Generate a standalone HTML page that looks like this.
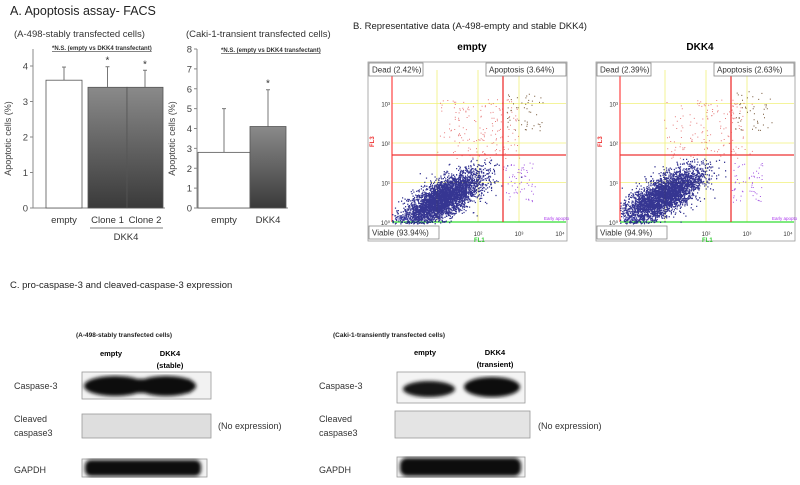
<!DOCTYPE html>
<html><head><meta charset="utf-8"><style>
body{margin:0;background:#fff;}
svg{display:block;font-family:"Liberation Sans",Arial,sans-serif;}
</style></head><body>
<svg id="fig" width="800" height="485" viewBox="0 0 800 485">
<defs>
<linearGradient id="gbar" x1="0" y1="0" x2="0" y2="1"><stop offset="0" stop-color="#8a8a8a"/><stop offset="1" stop-color="#3a3a3a"/></linearGradient>
<filter id="blur1"><feGaussianBlur stdDeviation="1.8"/></filter>
</defs>
<!-- Panel A -->
<text x="10" y="15" font-size="12.5" fill="#222">A. Apoptosis assay- FACS</text>
<text x="14" y="37" font-size="9.5" fill="#333">(A-498-stably transfected cells)</text>
<text x="52" y="50" font-size="6" font-weight="bold" fill="#333" text-decoration="underline">*N.S. (empty vs DKK4 transfectant)</text>
<text x="186" y="37" font-size="9.5" fill="#333">(Caki-1-transient transfected cells)</text>
<text x="221" y="52" font-size="6" font-weight="bold" fill="#333" text-decoration="underline">*N.S. (empty vs DKK4 transfectant)</text>
<g id="chart1"></g>
<g id="chart2"></g>
<line x1="90" y1="228" x2="163" y2="228" stroke="#555" stroke-width="0.8"/>
<text x="126" y="240" font-size="9.5" text-anchor="middle" fill="#333">DKK4</text>

<!-- Panel B -->
<text x="353" y="29" font-size="9.5" fill="#222">B. Representative data (A-498-empty and stable DKK4)</text>
<text x="472" y="50" font-size="10" font-weight="bold" text-anchor="middle">empty</text>
<text x="700" y="50" font-size="10" font-weight="bold" text-anchor="middle">DKK4</text>
<g id="facs1"></g>
<g id="facs2"></g>

<!-- Panel C -->
<text x="10" y="288" font-size="9.5" fill="#222">C. pro-caspase-3 and cleaved-caspase-3 expression</text>
<g>
<text x="76" y="337" font-size="6.5" font-weight="bold" fill="#222">(A-498-stably transfected cells)</text>
<text x="111" y="356" font-size="7.5" font-weight="bold" text-anchor="middle">empty</text>
<text x="170" y="356" font-size="7.5" font-weight="bold" text-anchor="middle">DKK4</text>
<text x="170" y="368" font-size="7.5" font-weight="bold" text-anchor="middle">(stable)</text>
<text x="14" y="389" font-size="9" fill="#333">Caspase-3</text>
<rect x="82" y="372" width="129" height="27" fill="#f2f2f2" stroke="#999" stroke-width="0.8"/>
<g filter="url(#blur1)"><ellipse cx="115" cy="386" rx="31" ry="10" fill="#111"/><ellipse cx="166" cy="386" rx="30" ry="10" fill="#111"/><rect x="92" y="379" width="98" height="14" fill="#111"/></g>
<text x="14" y="422" font-size="9" fill="#333">Cleaved</text>
<text x="14" y="436" font-size="9" fill="#333">caspase3</text>
<rect x="82" y="414" width="129" height="24" fill="#dedede" stroke="#999" stroke-width="0.8"/>
<text x="218" y="429" font-size="9" fill="#333">(No expression)</text>
<text x="14" y="473" font-size="9" fill="#333">GAPDH</text>
<rect x="82" y="459" width="125" height="18" fill="#f2f2f2" stroke="#999" stroke-width="0.8"/>
<g filter="url(#blur1)"><rect x="85" y="460" width="116" height="16" rx="6" fill="#0a0a0a"/></g>
</g>
<g>
<text x="333" y="337" font-size="6.5" font-weight="bold" fill="#222">(Caki-1-transiently transfected cells)</text>
<text x="425" y="355" font-size="7.5" font-weight="bold" text-anchor="middle">empty</text>
<text x="495" y="355" font-size="7.5" font-weight="bold" text-anchor="middle">DKK4</text>
<text x="495" y="367" font-size="7.5" font-weight="bold" text-anchor="middle">(transient)</text>
<text x="319" y="389" font-size="9" fill="#333">Caspase-3</text>
<rect x="397" y="372" width="128" height="31" fill="#f4f4f4" stroke="#999" stroke-width="0.8"/>
<g filter="url(#blur1)"><ellipse cx="429" cy="389" rx="26" ry="8" fill="#151515"/><ellipse cx="492" cy="387" rx="28" ry="10" fill="#0e0e0e"/></g>
<text x="319" y="422" font-size="9" fill="#333">Cleaved</text>
<text x="319" y="436" font-size="9" fill="#333">caspase3</text>
<rect x="395" y="411" width="135" height="27" fill="#e4e4e4" stroke="#999" stroke-width="0.8"/>
<text x="538" y="429" font-size="9" fill="#333">(No expression)</text>
<text x="319" y="473" font-size="9" fill="#333">GAPDH</text>
<rect x="397" y="457" width="128" height="20" fill="#f2f2f2" stroke="#999" stroke-width="0.8"/>
<g filter="url(#blur1)"><rect x="400" y="458" width="121" height="18" rx="7" fill="#0a0a0a"/></g>
</g>
</svg>
<script>
const NS="http://www.w3.org/2000/svg";
const chart1Categories=["empty","Clone 1","Clone 2"];
const chart1Values=[3.6,3.4,3.4];
const chart1Errors=[0.37,0.58,0.48];
const chart1Stars=[false,true,true];
const chart1Ticks=[0,1,2,3,4];
const chart2Categories=["empty","DKK4"];
const chart2Values=[2.8,4.1];
const chart2Errors=[2.2,1.85];
const chart2Stars=[false,true];
const chart2Ticks=[0,1,2,3,4,5,6,7,8];

function mk(parent,tag,attrs,text){const e=document.createElementNS(NS,tag);for(const k in attrs)e.setAttribute(k,attrs[k]);if(text!==undefined)e.textContent=text;parent.appendChild(e);return e;}

function barChart(g,cfg,cats,vals,errs,stars,ticks){
  const y=v=>cfg.y0-(v-0)*(cfg.y0-cfg.yTop)/(cfg.max);
  const ax=mk(g,"line",{x1:cfg.x0,y1:cfg.axisTop,x2:cfg.x0,y2:cfg.y0,stroke:"#888","stroke-width":1});
  
  
  const xa=mk(g,"line",{x1:cfg.x0,y1:cfg.y0,x2:cfg.xEnd,y2:cfg.y0,stroke:"#888","stroke-width":1});
  
  
  ticks.forEach(t=>{
    mk(g,"line",{x1:cfg.x0-3,y1:y(t),x2:cfg.x0,y2:y(t),stroke:"#888"});
    const tl=mk(g,"text",{x:cfg.x0-5,y:y(t)+3.5,"font-size":9.5,"text-anchor":"end",fill:"#444"},t);
    
    
  });
  const yt=mk(g,"text",{x:0,y:0,"font-size":9,"text-anchor":"middle",fill:"#444",transform:`translate(${cfg.x0-22},${(cfg.y0+cfg.axisTop)/2+10}) rotate(-90)`},"Apoptotic cells (%)");
  
  
  cats.forEach((c,i)=>{
    const bx=cfg.bx[i],bw=cfg.bw[i],cx=bx+bw/2;
    const top=y(vals[i]+errs[i]);
    mk(g,"line",{x1:cx,y1:y(vals[i]),x2:cx,y2:top,stroke:"#777"});
    mk(g,"line",{x1:cx-2,y1:top,x2:cx+2,y2:top,stroke:"#777"});
    const r=mk(g,"rect",{x:bx,y:y(vals[i]),width:bw,height:cfg.y0-y(vals[i]),fill:i===0?"#fff":"url(#gbar)",stroke:"#555","stroke-width":0.8});
    
    
    if(stars[i]){const s=mk(g,"text",{x:cx,y:top-3,"font-size":10,"text-anchor":"middle",fill:"#333"},"*");
      
      }
    const l=mk(g,"text",{x:cx,y:cfg.y0+15,"font-size":9.5,"text-anchor":"middle",fill:"#333"},c);
    
    
  });
}
barChart(document.getElementById("chart1"),{x0:33,xEnd:165,y0:208,yTop:66,max:4,axisTop:49,bx:[46,88,127],bw:[36,39,36]},chart1Categories,chart1Values,chart1Errors,chart1Stars,chart1Ticks);
barChart(document.getElementById("chart2"),{x0:197,xEnd:288,y0:208,yTop:49,max:8,axisTop:49,bx:[198,250],bw:[52,36]},chart2Categories,chart2Values,chart2Errors,chart2Stars,chart2Ticks);

// FACS scatter (log-log), decorative population dots from seeded generator
function rng(seed){let s=seed;return()=>{s=(s*1103515245+12345)%2147483648;return s/2147483648;};}
function facs(g,ox,seed,labels,cfg){
  const R=rng(seed);
  const gauss=()=>{let u=R()||1e-6,v=R();return Math.sqrt(-2*Math.log(u))*Math.cos(2*Math.PI*v);};
  const X0=ox+28, Y0=222, dec=41;
  const px=l=>X0+l*dec, py=l=>Y0-l*39.5;
  const box=mk(g,"rect",{x:ox,y:62,width:199,height:179,fill:"#fff",stroke:"#999","stroke-width":0.8});
  
  
  for(let l=1;l<=3;l++){mk(g,"line",{x1:px(l),y1:70,x2:px(l),y2:Y0,stroke:"#f0f07a","stroke-width":0.8});mk(g,"line",{x1:ox+24,y1:py(l),x2:ox+198,y2:py(l),stroke:"#f0f07a","stroke-width":0.8});}
  mk(g,"line",{x1:ox+24,y1:68,x2:ox+24,y2:Y0,stroke:"#f44","stroke-width":1.2});
  mk(g,"line",{x1:ox+24,y1:Y0,x2:ox+198,y2:Y0,stroke:"#3d3","stroke-width":1.2});
  const rd=[];for(let i=0;i<cfg.nr;i++){const lx=1.1+R()*1.9+gauss()*0.1,ly=1.6+R()*1.5;rd.push(`M${px(lx).toFixed(1)} ${py(ly).toFixed(1)}h1`);}
  mk(g,"path",{d:rd.join(""),stroke:"#e05050","stroke-width":1,opacity:0.75});
  const bd=[];for(let i=0;i<50;i++){const lx=2.7+R()*0.9,ly=2.3+R()*1.0;bd.push(`M${px(lx).toFixed(1)} ${py(ly).toFixed(1)}h1`);}
  mk(g,"path",{d:bd.join(""),stroke:"#705030","stroke-width":1});
  const dots=[];
  for(let i=0;i<cfg.n;i++){const a=gauss(),b=gauss();const lx=cfg.cx+a*0.48+b*0.12,ly=cfg.cy+a*0.2+b*0.3;if(lx<-0.1||ly<-0.05||ly>1.6)continue;dots.push(`M${px(lx).toFixed(1)} ${py(ly).toFixed(1)}h1.2`);}
  mk(g,"path",{d:dots.join(""),stroke:"#141480","stroke-width":1.3,opacity:0.85});
  const pd=[];for(let i=0;i<60;i++){const lx=2.6+R()*0.8,ly=0.5+R()*1.0;pd.push(`M${px(lx).toFixed(1)} ${py(ly).toFixed(1)}h1`);}
  mk(g,"path",{d:pd.join(""),stroke:"#a050e0","stroke-width":1});
  mk(g,"line",{x1:ox+135,y1:70,x2:ox+135,y2:Y0,stroke:"#e33","stroke-width":1.3});
  mk(g,"line",{x1:ox+24,y1:155,x2:ox+198,y2:155,stroke:"#e33","stroke-width":1.3});
  ["10⁰","10¹","10²","10³"].forEach((t,l)=>{mk(g,"text",{x:ox+22,y:py(l)+3,"font-size":6,"text-anchor":"end",fill:"#333"},t);});
  ["10²","10³","10⁴"].forEach((t,i)=>{mk(g,"text",{x:px(i+2),y:236,"font-size":6,"text-anchor":"middle",fill:"#333"},t);});
  mk(g,"text",{x:px(2)-4,y:242,"font-size":6,fill:"#3c3","font-weight":"bold"},"FL1");
  mk(g,"text",{x:0,y:0,"font-size":6,fill:"#e33","font-weight":"bold",transform:`translate(${ox+6},${py(2)+4}) rotate(-90)`},"FL3");
  mk(g,"text",{x:ox+27,y:220,"font-size":4.5,fill:"#33a"},"Viables");
  mk(g,"text",{x:ox+176,y:220,"font-size":4.5,fill:"#a3e"},"Early apopto");
  const lb=(x,y,w,t,name)=>{const r=mk(g,"rect",{x,y,width:w,height:13,fill:"#fff",stroke:"#888","stroke-width":0.8});
    
    
    mk(g,"text",{x:x+3,y:y+9.5,"font-size":8,fill:"#333"},t);};
  lb(ox+1,63,54,labels[0],'dead-label');
  lb(ox+118,63,80,labels[1],'apoptosis-label');
  lb(ox+1,226,70,labels[2],'viable-label');
}
facs(document.getElementById("facs1"),368,12345,["Dead (2.42%)","Apoptosis (3.64%)","Viable (93.94%)"],{n:4000,cx:1.1,cy:0.55,nr:170});
facs(document.getElementById("facs2"),596,98765,["Dead (2.39%)","Apoptosis (2.63%)","Viable (94.9%)"],{n:3600,cx:0.95,cy:0.65,nr:160});
</script>
</body></html>
